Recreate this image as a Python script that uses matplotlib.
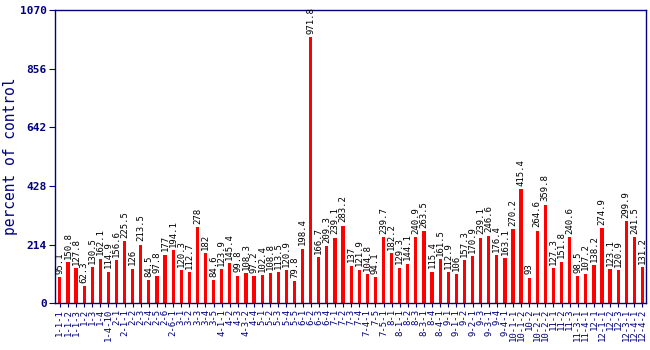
import matplotlib
matplotlib.use("Agg")
import matplotlib.pyplot as plt
import numpy as np

NAVY = "#000080"

samples = [
    "1-1-1", "1-1-2", "1-1-3", "1-2", "1-3", "1-4", "1-4-10", "2-1", "2-1-1",
    "2-2", "2-3", "2-4", "2-5", "2-6", "2-6-1", "3-1", "3-2", "3-3", "3-4",
    "3-5", "4-1-1", "4-2", "4-3", "4-3-2", "4-4", "5-1", "5-2", "5-3", "5-4",
    "5-5", "6-1", "6-2", "6-3", "6-4", "7-1", "7-2", "7-3", "7-4", "7-4-1",
    "7-5", "7-5-1", "8-1", "8-1-1", "8-2", "8-3", "8-3-1", "8-4", "8-4-1",
    "9-1", "9-1-1", "9-2", "9-2-1", "9-3", "9-3-1", "9-4", "9-4-1", "10-1-1",
    "10-1-2", "10-2", "10-2-1", "10-2-2", "11-1", "11-2", "11-3", "11-3-1",
    "11-4-1", "12-1", "12-1-1", "12-2", "12-3", "12-3-1", "12-4-1", "12-4-2",
]
values = [
    95.1, 150.8, 127.8, 62.3, 130.5, 162.1, 114.9, 156.6, 225.5, 126,
    213.5, 84.5, 97.8, 177, 194.1, 120.3, 112.7, 278, 182, 84.6,
    123.9, 145.4, 99.8, 108.3, 97.2, 102.4, 108.8, 113.5, 120.9, 79.8,
    198.4, 971.8, 166.7, 209.3, 239.1, 283.2, 137, 121.9, 104.8, 94.1,
    239.7, 182.2, 129.3, 144.1, 240.9, 263.5, 115.4, 161.5, 112.9, 106,
    157.3, 170.9, 239.1, 246.6, 176.4, 163.1, 270.2, 415.4, 93, 264.6,
    359.8, 127.3, 151.8, 240.6, 98.5, 107.2, 138.2, 274.9, 123.1, 120.9,
    299.9, 241.5, 131.2,
]
yticks = [0, 214, 428, 642, 856, 1070]

plt.rcParams["font.family"] = ["DejaVu Sans Mono"]

fig = plt.figure(figsize=(6.5, 3.5), dpi=100)
ax = fig.add_axes([0.0846, 0.134, 0.91, 0.837])

x = np.arange(len(values))
ax.bar(x, values, width=0.4, color="#ff0000", zorder=2)
for xi, v in zip(x, values):
    ax.text(xi, v + 12, f"{v:g}", rotation=90, ha="center", va="bottom",
            fontsize=6.5, color="black")

ax.set_xlim(-0.6, 72.5)
ax.set_ylim(0, 1070)
ax.set_yticks(yticks)
ax.set_yticklabels([str(t) for t in yticks], fontsize=8, fontweight="bold",
                   color=NAVY)
ax.set_xticks(x)
ax.set_xticklabels(samples, rotation=90, fontsize=6.5, color=NAVY)
ax.tick_params(axis="x", length=3, width=0.8, color=NAVY, pad=1)
ax.tick_params(axis="y", length=4, width=0.8, color=NAVY, pad=2)
for s in ax.spines.values():
    s.set_color(NAVY)
    s.set_linewidth(1.0)
ax.set_ylabel("percent of control", fontsize=10.5, color=NAVY, labelpad=1)

fig.savefig("out.png", dpi=100, facecolor="white")
